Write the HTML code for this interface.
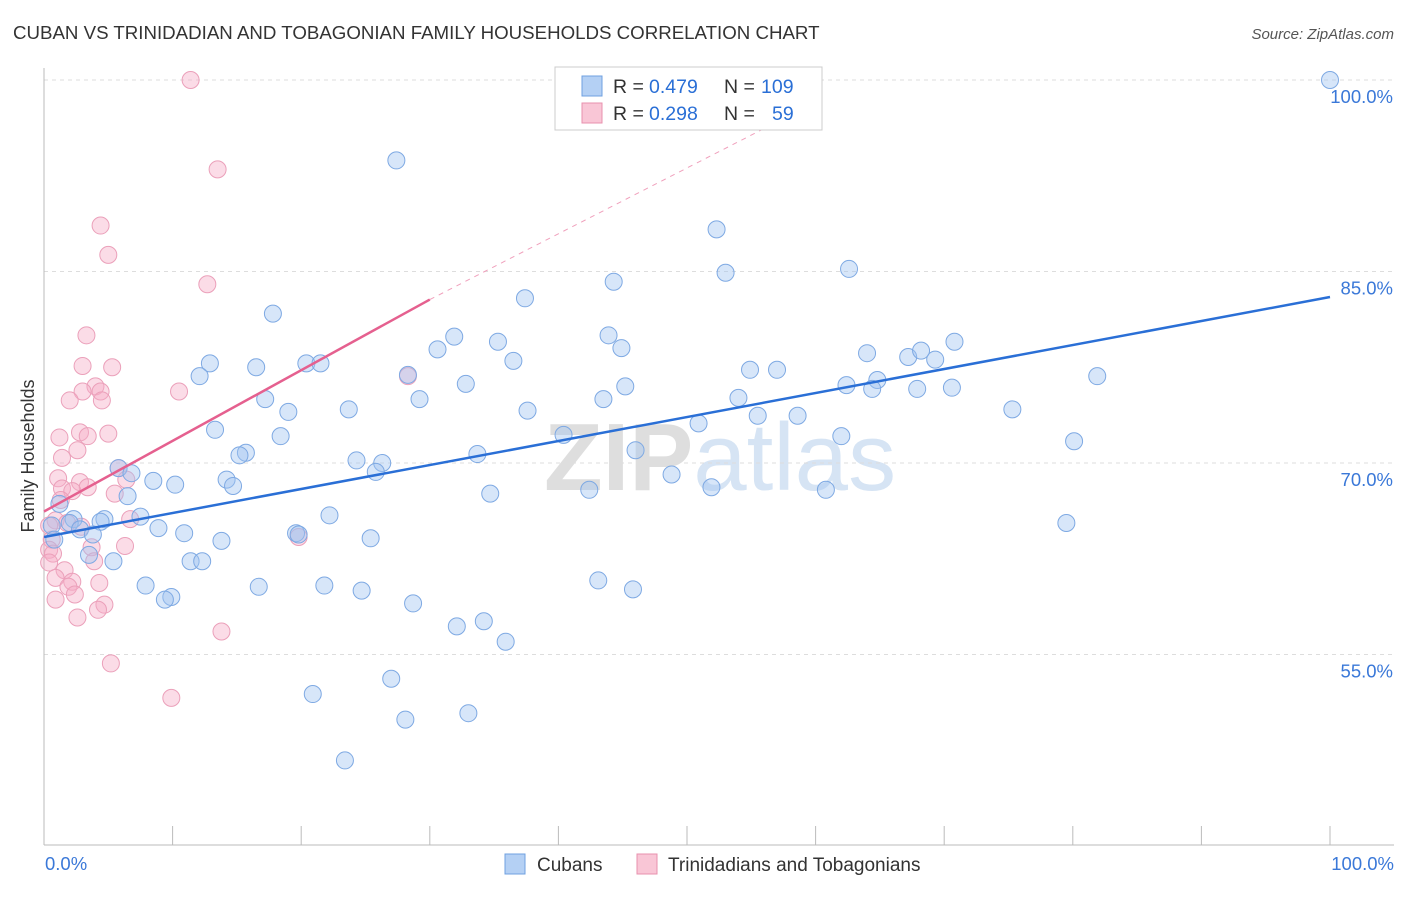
<!DOCTYPE html>
<html><head><meta charset="utf-8">
<style>
body{margin:0;background:#fff;font-family:"Liberation Sans",sans-serif;}
svg text{font-family:"Liberation Sans",sans-serif;}
</style></head>
<body>
<svg id="chart" width="1406" height="892" viewBox="0 0 1406 892" xmlns="http://www.w3.org/2000/svg">
<text x="13" y="39" font-size="18.7" fill="#333">CUBAN VS TRINIDADIAN AND TOBAGONIAN FAMILY HOUSEHOLDS CORRELATION CHART</text>
<text x="1394" y="39" font-size="15" fill="#555" font-style="italic" text-anchor="end">Source: ZipAtlas.com</text>
<text x="720" y="490" font-size="96" fill="#e6e6e6" text-anchor="middle" font-family="Liberation Serif"><tspan font-weight="bold" fill="#dedede">ZIP</tspan><tspan fill="#d6e4f4">atlas</tspan></text>
<g id="grid"></g>
<g id="axes"></g>
<g id="pink"></g>
<g id="blue"></g>
<g id="trends"></g>
<text transform="translate(34,456) rotate(-90)" font-size="18" fill="#333" text-anchor="middle">Family Households</text>
<g>
<rect x="555" y="67" width="267" height="63" fill="#fff" stroke="#ccc"/>
<rect x="582" y="76" width="20" height="20" fill="#b4d0f4" stroke="#6fa0e0"/>
<rect x="582" y="103" width="20" height="20" fill="#f9c6d6" stroke="#e890ae"/>
<text x="613" y="93" font-size="19.5" fill="#333">R =</text>
<text x="649" y="93" font-size="19.5" fill="#2a6fd6">0.479</text>
<text x="724" y="93" font-size="19.5" fill="#333">N =</text>
<text x="761" y="93" font-size="19.5" fill="#2a6fd6">109</text>
<text x="613" y="120" font-size="19.5" fill="#333">R =</text>
<text x="649" y="120" font-size="19.5" fill="#2a6fd6">0.298</text>
<text x="724" y="120" font-size="19.5" fill="#333">N =</text>
<text x="772" y="120" font-size="19.5" fill="#2a6fd6">59</text>
</g>
<g>
<rect x="505" y="854" width="20" height="20" fill="#b4d0f4" stroke="#6fa0e0"/>
<text x="537" y="871" font-size="19" fill="#333">Cubans</text>
<rect x="637" y="854" width="20" height="20" fill="#f9c6d6" stroke="#e890ae"/>
<text x="668" y="871" font-size="19" fill="#333">Trinidadians and Tobagonians</text>
</g>
</svg>
<script>
const yTicks=[100,85,70,55];
const yTickLabels=["100.0%","85.0%","70.0%","55.0%"];
const xTickLabels=["0.0%","100.0%"];
const blueX=[100,27.4,52.3,62.6,53.0,44.3,37.4,17.8,31.9,43.9,35.3,70.8,30.6,44.9,64.0,67.2,68.2,36.5,69.3,12.9,20.4,21.5,16.5,54.9,57.0,12.1,28.3,81.9,64.8,32.8,45.2,62.4,64.4,67.9,70.6,29.2,43.5,54.0,17.2,19.0,23.7,37.6,75.3,55.5,58.6,50.9,13.3,40.4,62.0,18.4,80.1,46.0,33.7,15.7,15.2,24.3,26.3,25.8,5.8,48.8,6.8,8.5,14.2,10.2,14.7,51.9,60.8,42.4,34.7,6.5,1.2,22.2,7.5,4.7,2.3,2.0,4.4,79.5,8.9,2.8,0.6,19.6,19.8,10.9,3.8,0.8,13.8,25.4,3.5,5.4,11.4,12.3,43.1,7.9,16.7,21.8,24.7,45.8,9.9,9.4,28.7,34.2,32.1,35.9,27.0,20.9,33.0,28.1,23.4];
const blueY=[100,93.7,88.3,85.2,84.9,84.2,82.9,81.7,79.9,80.0,79.5,79.5,78.9,79.0,78.6,78.3,78.8,78.0,78.1,77.8,77.8,77.8,77.5,77.3,77.3,76.8,76.9,76.8,76.5,76.2,76.0,76.1,75.8,75.8,75.9,75.0,75.0,75.1,75.0,74.0,74.2,74.1,74.2,73.7,73.7,73.1,72.6,72.2,72.1,72.1,71.7,71.0,70.7,70.8,70.6,70.2,70.0,69.3,69.6,69.1,69.2,68.6,68.7,68.3,68.2,68.1,67.9,67.9,67.6,67.4,66.8,65.9,65.8,65.6,65.6,65.3,65.4,65.3,64.9,64.8,65.1,64.5,64.4,64.5,64.4,64.0,63.9,64.1,62.8,62.3,62.3,62.3,60.8,60.4,60.3,60.4,60.0,60.1,59.5,59.3,59.0,57.6,57.2,56.0,53.1,51.9,50.4,49.9,46.7];
const pinkX=[11.4,13.5,4.4,5.0,12.7,3.3,3.0,5.3,28.3,4.0,4.4,3.0,10.5,2.0,4.5,2.8,5.0,1.2,3.4,2.6,1.4,5.8,1.1,2.8,6.4,1.4,3.4,2.2,5.5,1.3,6.7,0.9,1.8,0.4,2.9,19.8,0.6,6.3,3.7,0.4,0.7,3.9,0.4,1.6,0.9,2.2,4.3,1.9,2.4,0.9,4.7,4.2,2.6,13.8,5.2,9.9];
const pinkY=[100,93.0,88.6,86.3,84.0,80.0,77.6,77.5,76.8,76.0,75.6,75.6,75.6,74.9,74.9,72.4,72.3,72.0,72.1,71.0,70.4,69.6,68.8,68.5,68.7,68.0,68.1,67.8,67.6,67.1,65.6,65.5,65.3,65.1,65.0,64.2,64.0,63.5,63.4,63.2,62.9,62.3,62.2,61.6,61.0,60.7,60.6,60.3,59.7,59.3,58.9,58.5,57.9,56.8,54.3,51.6];
const blueTrend=[[0,64.2],[100,83.0]];
const pinkTrend=[[0,66.2],[30,82.8]];
const pinkTrendExt=[[30,82.8],[56,96.2]];

const sx=v=>44+v*12.86;
const sy=v=>80+(100-v)*12.766;
const NS="http://www.w3.org/2000/svg";
function mk(tag,attrs,parent){const e=document.createElementNS(NS,tag);for(const k in attrs)e.setAttribute(k,attrs[k]);parent.appendChild(e);return e;}
const grid=document.getElementById('grid'),axes=document.getElementById('axes');
yTicks.forEach((t,i)=>{
  const l=mk('line',{x1:44,x2:1394,y1:sy(t),y2:sy(t),stroke:'#ddd','stroke-dasharray':'4,4'},grid);
  
  
  const tx=mk('text',{x:1393,y:sy(t)+23,'font-size':18.5,fill:'#3a78d8','text-anchor':'end'},axes);
  tx.textContent=yTickLabels[i];
  
  
});
mk('line',{x1:44,x2:44,y1:68,y2:845,stroke:'#bbb'},axes);
mk('line',{x1:44,x2:1394,y1:845,y2:845,stroke:'#bbb'},axes);
for(let i=0;i<=10;i++){const t=mk('line',{x1:sx(i*10),x2:sx(i*10),y1:826,y2:845,stroke:'#bbb'},axes);
  
  }
[[0,45,'start'],[1,1394,'end']].forEach(([i,x,a])=>{const t=mk('text',{x:x,y:870,'font-size':18.5,fill:'#3a78d8','text-anchor':a},axes);t.textContent=xTickLabels[i];
  
  });
const pg=document.getElementById('pink'),bg=document.getElementById('blue');
pinkX.forEach((x,i)=>{const c=mk('circle',{cx:sx(x),cy:sy(pinkY[i]),r:8.5,fill:'rgba(246,172,198,0.42)',stroke:'#eba0ba','stroke-width':1},pg);
  
  });
blueX.forEach((x,i)=>{const c=mk('circle',{cx:sx(x),cy:sy(blueY[i]),r:8.5,fill:'rgba(160,196,240,0.42)',stroke:'#7ea9e3','stroke-width':1},bg);
  
  });
const tg=document.getElementById('trends');
const b=mk('line',{x1:sx(blueTrend[0][0]),y1:sy(blueTrend[0][1]),x2:sx(blueTrend[1][0]),y2:sy(blueTrend[1][1]),stroke:'#2a6fd6','stroke-width':2.5},tg);


const p=mk('line',{x1:sx(pinkTrend[0][0]),y1:sy(pinkTrend[0][1]),x2:sx(pinkTrend[1][0]),y2:sy(pinkTrend[1][1]),stroke:'#e5608f','stroke-width':2.5},tg);


const pe=mk('line',{x1:sx(pinkTrendExt[0][0]),y1:sy(pinkTrendExt[0][1]),x2:sx(pinkTrendExt[1][0]),y2:sy(pinkTrendExt[1][1]),stroke:'#f0a0bc','stroke-width':1,'stroke-dasharray':'5,5'},tg);


</script>
</body></html>
